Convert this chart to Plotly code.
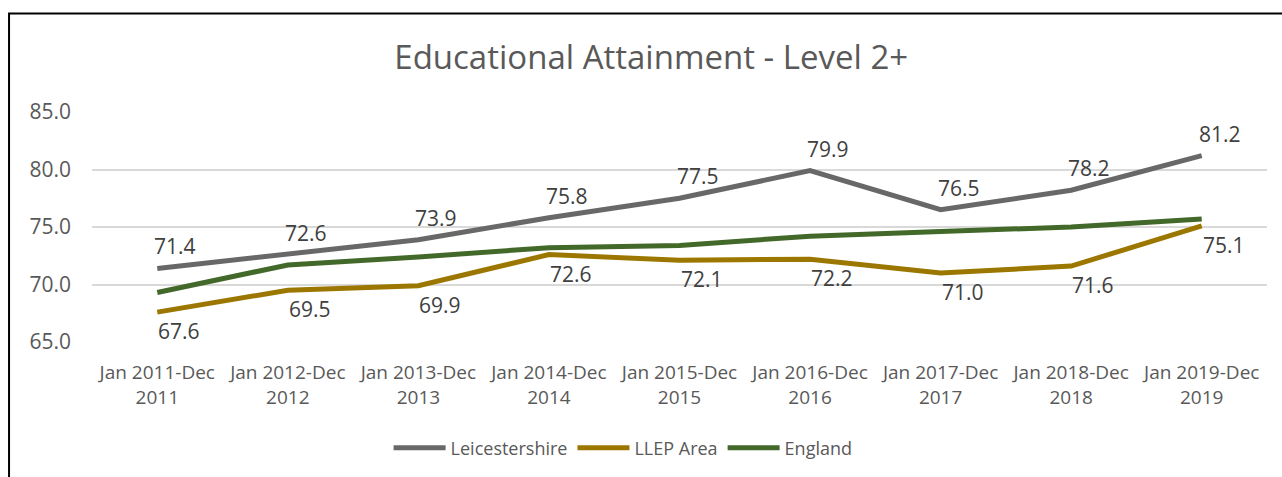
import plotly.graph_objects as go

categories = ["Jan 2011-Dec<br>2011", "Jan 2012-Dec<br>2012", "Jan 2013-Dec<br>2013",
              "Jan 2014-Dec<br>2014", "Jan 2015-Dec<br>2015", "Jan 2016-Dec<br>2016",
              "Jan 2017-Dec<br>2017", "Jan 2018-Dec<br>2018", "Jan 2019-Dec<br>2019"]
leicestershire = [71.4, 72.6, 73.9, 75.8, 77.5, 79.9, 76.5, 78.2, 81.2]
llep = [67.6, 69.5, 69.9, 72.6, 72.1, 72.2, 71.0, 71.6, 75.1]
england = [69.3, 71.7, 72.4, 73.2, 73.4, 74.2, 74.6, 75.0, 75.7]
y_ticks = [65, 70, 75, 80, 85]

FONT = "Open Sans"
LABEL_FONT = dict(family=FONT, size=21, color="#404040")

fig = go.Figure()
fig.add_trace(go.Scatter(x=categories, y=leicestershire, name="Leicestershire", mode="lines",
                         line=dict(color="#686868", width=5)))
fig.add_trace(go.Scatter(x=categories, y=llep, name="LLEP Area", mode="lines",
                         line=dict(color="#9C7700", width=5)))
fig.add_trace(go.Scatter(x=categories, y=england, name="England", mode="lines",
                         line=dict(color="#43692A", width=5)))

# data labels (Leicestershire above-right, LLEP below-right)
annotations = []
for c, v in zip(categories, leicestershire):
    annotations.append(dict(x=c, y=v, xref="x", yref="y", text=f"{v:.1f}", showarrow=False,
                            xshift=18, yshift=22, font=LABEL_FONT))
for c, v in zip(categories, llep):
    annotations.append(dict(x=c, y=v, xref="x", yref="y", text=f"{v:.1f}", showarrow=False,
                            xshift=22, yshift=-19, font=LABEL_FONT))

fig.update_layout(
    width=1282, height=477,
    margin=dict(l=92, r=15, t=112, b=134),
    paper_bgcolor="white", plot_bgcolor="white",
    font=dict(family=FONT, color="#595959"),
    title=dict(text="Educational Attainment - Level 2+", x=0.508, xanchor="center",
               y=1 - 57 / 477, yanchor="middle", yref="container",
               font=dict(family=FONT, size=33, color="#595959")),
    showlegend=True,
    legend=dict(orientation="h", x=0.452, xanchor="center", y=-0.455, yanchor="middle",
                font=dict(family=FONT, size=18, color="#595959"),
                itemwidth=52),
    xaxis=dict(showgrid=False, showline=False, zeroline=False,
               range=[-0.5, len(categories) - 0.5],
               tickfont=dict(family=FONT, size=19, color="#595959"),
               ticklabelstandoff=17),
    yaxis=dict(range=[65, 85], tickvals=y_ticks, tickformat=".1f",
               showgrid=True, gridcolor="#D9D9D9", gridwidth=1.5,
               zeroline=False, showline=False,
               tickfont=dict(family=FONT, size=21, color="#595959"),
               ticklabelstandoff=20),
    annotations=annotations,
    shapes=[dict(type="rect", xref="paper", yref="paper",
                 x0=-0.0706, x1=1.2, y0=-1.0, y1=1.4286,
                 line=dict(color="black", width=2), fillcolor="rgba(0,0,0,0)")],
)

fig.write_html("out.html")
